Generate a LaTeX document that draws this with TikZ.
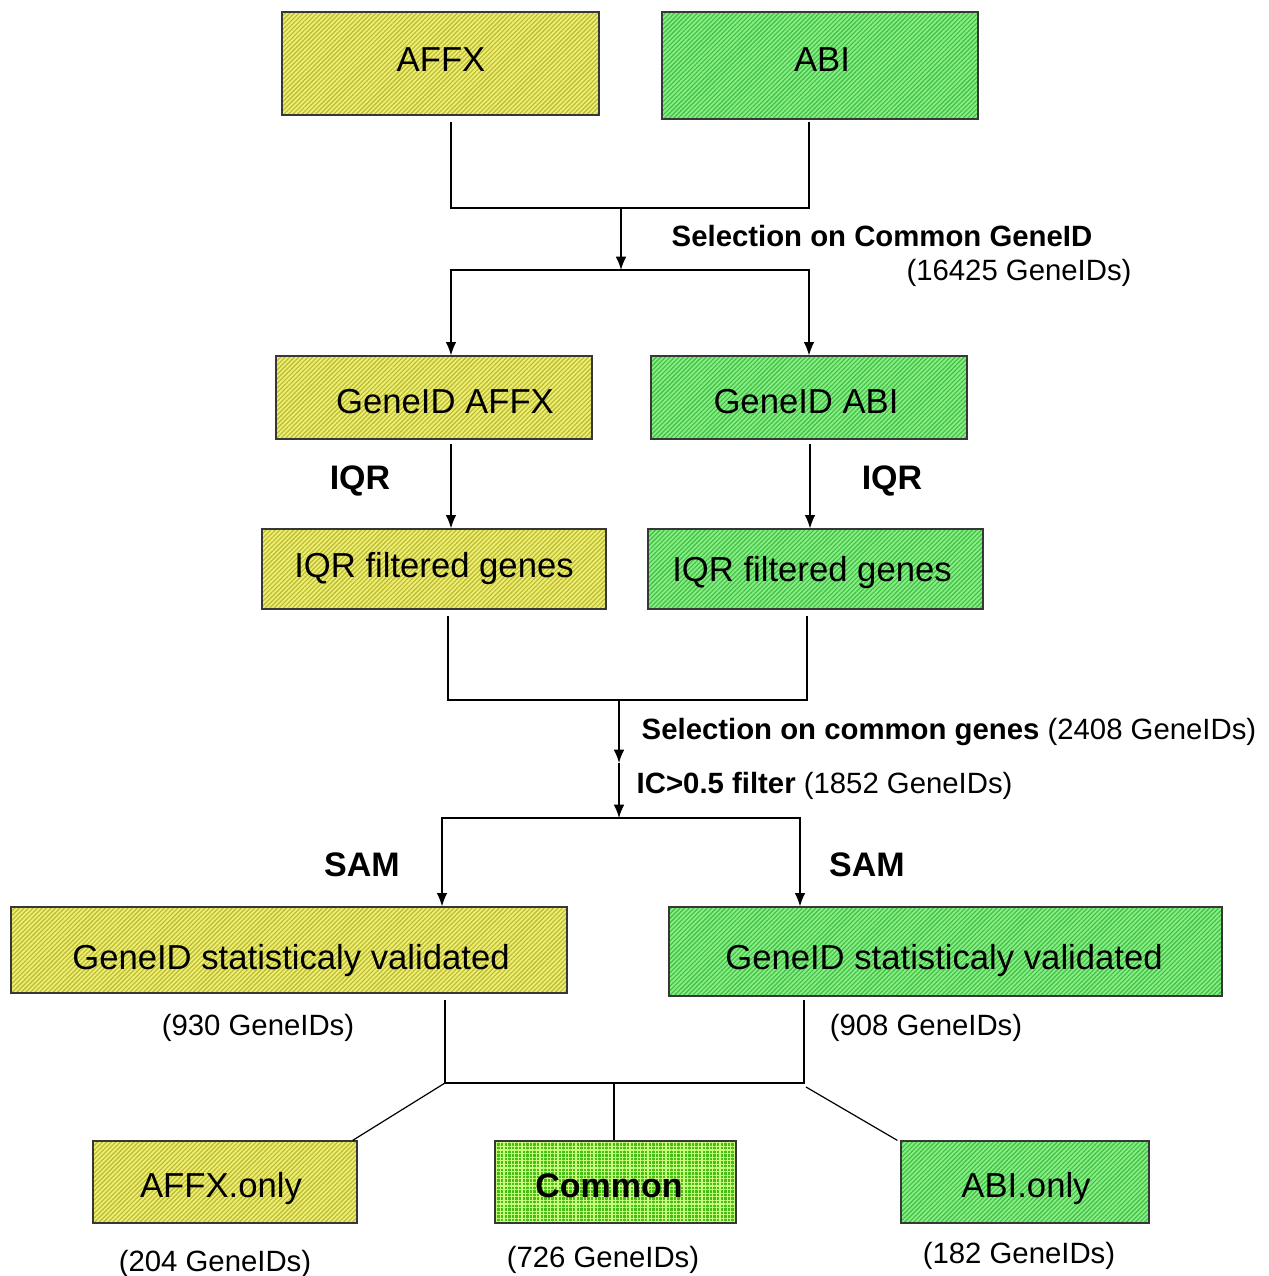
\documentclass[tikz,border=0pt]{standalone}
\usepackage{fontspec}
\setmainfont{Liberation Sans}
\usetikzlibrary{arrows.meta,patterns.meta,fit,calc}
\definecolor{ybase}{RGB}{238,238,115}
\definecolor{yline}{RGB}{185,185,50}
\definecolor{gbase}{RGB}{135,238,135}
\definecolor{gline}{RGB}{65,190,65}
\definecolor{cbase}{RGB}{70,190,20}
\definecolor{cline}{RGB}{200,252,125}
\definecolor{edge}{RGB}{55,55,55}
\tikzset{
  box/.style={draw=edge, line width=0.9pt, inner sep=0pt},
  ybox/.style={box, preaction={fill=ybase}, pattern={Lines[angle=45,distance=2.4pt,line width=0.85pt]}, pattern color=yline},
  gbox/.style={box, preaction={fill=gbase}, pattern={Lines[angle=45,distance=2.4pt,line width=0.85pt]}, pattern color=gline},
  cbox/.style={box, preaction={fill=cbase}, pattern={Hatch[angle=0,distance=2.7pt,line width=0.8pt]}, pattern color=cline},
  txt/.style={anchor=base, inner sep=0pt, font=\fontsize{26}{30}\selectfont},
  lbl/.style={inner sep=0pt, yshift=-2.2pt, font=\fontsize{22}{26}\selectfont},
  big/.style={inner sep=0pt, yshift=-2.5pt, font=\fontsize{25.5}{30}\selectfont\bfseries},
  arr/.style={-{Latex[length=10pt,width=8pt]}},
}
\begin{document}
\begin{tikzpicture}[x=0.75pt,y=-0.75pt,line width=1.1pt]
\useasboundingbox (0,0) rectangle (1268,1276);

% boxes
\node[ybox, fit={(282,12) (599,115)}] (affx) {};
\node[gbox, fit={(662,12) (978,119)}] (abi) {};
\node[ybox, fit={(276,356) (592,439)}] (gaffx) {};
\node[gbox, fit={(651,356) (967,439)}] (gabi) {};
\node[ybox, fit={(262,529) (606,609)}] (iaffx) {};
\node[gbox, fit={(648,529) (983,609)}] (iabi) {};
\node[ybox, fit={(11,907) (567,993)}] (saffx) {};
\node[gbox, fit={(669,907) (1222,996)}] (sabi) {};
\node[ybox, fit={(93,1141) (357,1223)}] (affxonly) {};
\node[cbox, fit={(495,1141) (736,1223)}] (common) {};
\node[gbox, fit={(901,1141) (1149,1223)}] (abionly) {};

% box texts
\node[txt] (taffx) at (441,72) {AFFX};
\node[txt] (tabi) at (822,72) {ABI};
\node[txt] (tgaffx) at (445,413) {GeneID AFFX};
\node[txt] (tgabi) at (806,413) {GeneID ABI};
\node[txt] (tiaffx) at (434,577) {IQR filtered genes};
\node[txt] (tiabi) at (812,581) {IQR filtered genes};
\node[txt] (tsaffx) at (291,969) {GeneID statisticaly validated};
\node[txt] (tsabi) at (944,969) {GeneID statisticaly validated};
\node[txt] (taffxonly) at (221,1197) {AFFX.only};
\node[txt, font=\fontsize{25.5}{30}\selectfont\bfseries] (tcommon) at (609,1197) {Common};
\node[txt] (tabionly) at (1026,1197) {ABI.only};

% labels
\node[lbl, anchor=west] (l1) at (671,233) {\textbf{Selection on Common GeneID}};
\node[lbl] (l2) at (1019,270) {(16425 GeneIDs)};
\node[big] (iqr1) at (360,478) {IQR};
\node[big] (iqr2) at (892,478) {IQR};
\node[lbl, anchor=west] (l3) at (641,729) {\textbf{Selection on common genes} (2408 GeneIDs)};
\node[lbl, anchor=west] (l4) at (636,783) {\textbf{IC>0.5 filter} (1852 GeneIDs)};
\node[big] (sam1) at (362,861) {SAM};
\node[big] (sam2) at (867,861) {SAM};
\node[lbl] (n930) at (258,1025) {(930 GeneIDs)};
\node[lbl] (n908) at (926,1025) {(908 GeneIDs)};
\node[lbl] (n204) at (215,1261) {(204 GeneIDs)};
\node[lbl] (n726) at (603,1257) {(726 GeneIDs)};
\node[lbl] (n182) at (1019,1253) {(182 GeneIDs)};

% connectors
\coordinate (a1) at (451,122);
\coordinate (b1) at (809,122);
\coordinate (m1) at (621,208);
\coordinate (m2) at (621,270);
\draw (a1) |- (m1) -| (b1);
\draw[arr] (m1) -- (m2);
\draw[arr] (m2) -| (gaffx.north -| a1);
\draw[arr] (m2) -| (gabi.north -| b1);

\coordinate (a2) at (451,444);
\coordinate (b2) at (810,444);
\draw[arr] (a2) -- (iaffx.north -| a2);
\draw[arr] (b2) -- (iabi.north -| b2);

\coordinate (c1) at (448,616);
\coordinate (d1) at (807,616);
\coordinate (m3) at (619,700);
\coordinate (m4) at (619,763);
\coordinate (m5) at (619,818);
\coordinate (e0) at (442,818);
\coordinate (f0) at (800,818);
\draw (c1) |- (m3) -| (d1);
\draw[arr] (m3) -- (m4);
\draw[arr] (m4) -- (m5);
\draw[arr] (m5) -| (saffx.north -| e0);
\draw[arr] (m5) -| (sabi.north -| f0);

\coordinate (e1) at (445,1000);
\coordinate (f1) at (804,1000);
\coordinate (m6) at (614,1083);
\draw (e1) |- (m6) -| (f1);
\draw (m6) -- (common.north -| m6);
\draw[line width=0.9pt] (e1 |- m6) -- ($(affxonly.north east)+(-5,0)$);
\draw[line width=0.9pt] ($(f1 |- m6)+(2,4)$) -- ($(abionly.north west)+(-3,0)$);
\end{tikzpicture}
\end{document}
